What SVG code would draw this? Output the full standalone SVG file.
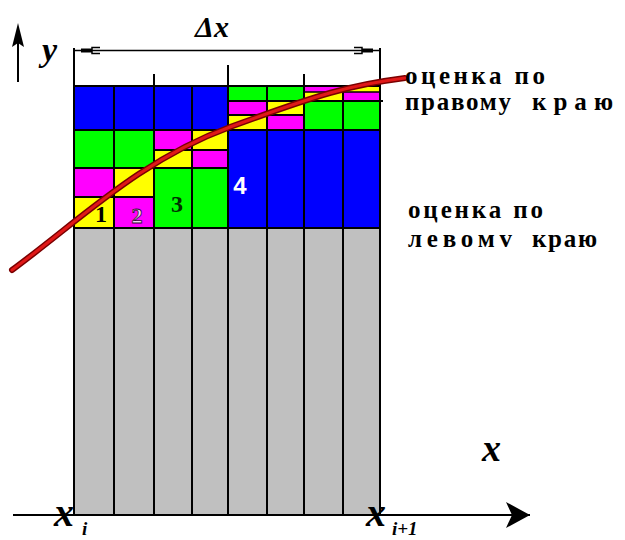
<svg xmlns="http://www.w3.org/2000/svg" width="625" height="540" viewBox="0 0 625 540">
<style>
.b{fill:#0000ff}.g{fill:#00ff00}.m{fill:#ff00ff}.y{fill:#ffff00}.gr{fill:#c0c0c0}
.ln{stroke:#000;stroke-width:2;fill:none}
.tn{stroke:#000;stroke-width:1.5;fill:none}
</style>
<defs>
<marker id="ah" viewBox="0 0 24 26" refX="24" refY="13" markerWidth="24" markerHeight="26" markerUnits="userSpaceOnUse" orient="auto">
<path d="M0,0 L24,13 L0,26 L6,13 Z" fill="#000"/>
</marker>
</defs>
<rect width="625" height="540" fill="#fff"/>
<g id="cells">
<rect class="gr" x="74" y="228" width="306" height="287"/>
<rect class="b" x="74" y="86" width="154" height="44"/>
<rect class="b" x="228" y="130" width="152" height="98"/>
<rect class="g" x="228" y="86" width="39" height="15"/><rect class="m" x="228" y="101" width="39" height="14"/><rect class="y" x="228" y="115" width="39" height="15"/>
<rect class="g" x="267" y="86" width="37" height="15"/><rect class="y" x="267" y="101" width="37" height="14"/><rect class="m" x="267" y="115" width="37" height="15"/>
<rect class="m" x="304" y="86" width="39" height="6"/><rect class="y" x="304" y="92" width="39" height="9"/><rect class="g" x="304" y="101" width="39" height="29"/>
<rect class="y" x="343" y="86" width="37" height="6"/><rect class="m" x="343" y="92" width="37" height="9"/><rect class="g" x="343" y="101" width="37" height="29"/>
<rect class="g" x="74" y="130" width="40" height="38"/><rect class="m" x="74" y="168" width="40" height="29"/><rect class="y" x="74" y="197" width="40" height="31"/>
<rect class="g" x="114" y="130" width="40" height="38"/><rect class="y" x="114" y="168" width="40" height="29"/><rect class="m" x="114" y="197" width="40" height="31"/>
<rect class="m" x="154" y="130" width="38" height="20"/><rect class="y" x="154" y="150" width="38" height="18"/><rect class="g" x="154" y="168" width="38" height="60"/>
<rect class="y" x="192" y="130" width="36" height="19"/><rect class="m" x="192" y="149" width="36" height="19"/><rect class="g" x="192" y="168" width="36" height="60"/>
</g>
<g id="grid">
<path class="ln" d="M74,48 V515 M380,48 V515 M114,86 V515 M154,74 V515 M192,86 V515 M228,65 V515 M267,86 V515 M304,74 V515 M343,86 V515"/>
<path class="ln" d="M74,86 H380 M74,130 H380 M74,228 H380 M74,168 H228 M74,197 H154 M154,150 H228 M228,101 H383 M228,115 H304"/>
<path class="tn" d="M304,92 H380"/>
</g>
<g id="labels-num" font-family="Liberation Serif, serif" font-weight="bold">
<text x="101" y="222" text-anchor="middle" font-size="24" fill="#000">1</text>
<text x="137" y="223" text-anchor="middle" font-size="22" fill="#f4d0f4" stroke="#301030" stroke-width="0.8">2</text>
<text x="177" y="212" text-anchor="middle" font-size="24" fill="#003000">3</text>
<text x="240" y="194" text-anchor="middle" font-family="Liberation Sans, sans-serif" font-size="24" fill="#fff">4</text>
</g>
<g id="curve">
<path d="M12,270 C80,220 140,160 230,127 S350,85 405,78" fill="none" stroke="#7a0000" stroke-width="6" stroke-linecap="round"/>
<path d="M12,270 C80,220 140,160 230,127 S350,85 405,78" fill="none" stroke="#e01818" stroke-width="3" stroke-linecap="round"/>
</g>
<g id="connectors">
<line x1="13" y1="515" x2="530" y2="515" stroke="#000" stroke-width="2" marker-end="url(#ah)"/>
<line x1="18" y1="82" x2="18" y2="30" stroke="#000" stroke-width="2"/>
<path d="M18,23 L24,47 L18,43 L12,47 Z" fill="#000"/>
<line x1="74" y1="50.5" x2="380" y2="50.5" stroke="#000" stroke-width="1.5"/>
<path d="M81,48.5 H92 V52.5 H81 Z" fill="#000"/>
<path d="M100,47.5 H92 V53.5 H100" fill="none" stroke="#000" stroke-width="1.5"/>
<path d="M362,48.5 H373 V52.5 H362 Z" fill="#000"/>
<path d="M354,47.5 H362 V53.5 H354" fill="none" stroke="#000" stroke-width="1.5"/>
</g>
<g id="math" font-family="Liberation Serif, serif" font-weight="bold" font-style="italic" fill="#000">
<text x="212" y="37" text-anchor="middle" font-size="30">Δx</text>
<text x="42" y="61" font-size="34">y</text>
<text x="482" y="461" font-size="38">x</text>
<text x="54" y="526" font-size="40">x</text>
<text x="82" y="535" font-size="19">i</text>
<text x="366" y="526" font-size="40">x</text>
<text x="392" y="535" font-size="19">i+1</text>
</g>
<g id="notes" font-family="Liberation Serif, serif" font-weight="bold" font-size="25" fill="#000">
<text x="405" y="84" textLength="140" lengthAdjust="spacing">оценка по</text>
<text x="405" y="110" textLength="106" lengthAdjust="spacing">правому</text>
<text x="532" y="110" textLength="81" lengthAdjust="spacing">краю</text>
<text x="408" y="218" textLength="135" lengthAdjust="spacing">оценка по</text>
<text x="408" y="247" textLength="104" lengthAdjust="spacing">левомv</text>
<text x="532" y="247" textLength="65" lengthAdjust="spacing">краю</text>
</g>
</svg>
